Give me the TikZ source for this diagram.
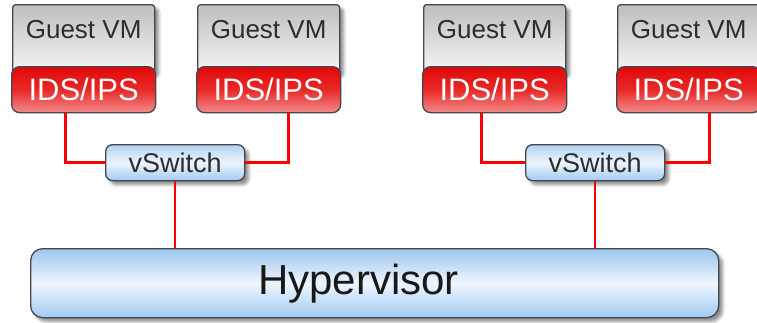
\documentclass[tikz,border=0pt]{standalone}
\usepackage{fontspec}
\setmainfont{Liberation Sans}
\usetikzlibrary{shadows.blur,calc}

\definecolor{boxedge}{RGB}{68,72,78}
\definecolor{vmtop}{RGB}{190,190,190}
\definecolor{vmbot}{RGB}{246,246,246}
\definecolor{idstop}{RGB}{226,8,8}
\definecolor{idsmid}{RGB}{232,40,40}
\definecolor{idsbot}{RGB}{244,140,140}
\definecolor{bluetop}{RGB}{158,198,238}
\definecolor{bluemid}{RGB}{238,245,253}
\definecolor{bluebot}{RGB}{160,202,244}
\definecolor{linkred}{RGB}{255,0,0}
\definecolor{darktext}{RGB}{45,45,45}

% one unit is one point; y grows upwards, so rows sit at negative y
\tikzset{
  x=1pt, y=1pt,
  softshadow/.style={blur shadow={shadow xshift=4pt, shadow yshift=-4pt,
      shadow blur steps=6, shadow blur radius=3pt, shadow opacity=45}},
  vmbox/.style={draw=boxedge, line width=1.3pt, rounded corners=3pt,
      minimum width=142pt, minimum height=68pt, inner sep=0pt,
      anchor=north west, top color=vmtop, bottom color=vmbot, softshadow},
  guesttext/.style={anchor=base, text=darktext, inner sep=0pt,
      font=\fontsize{26}{26}\selectfont},
  idsbox/.style={draw=boxedge, line width=1.3pt, rounded corners=8pt,
      minimum width=144pt, minimum height=46pt, inner sep=0pt,
      anchor=north west, top color=idstop, bottom color=idsbot,
      middle color=idsmid, text=white,
      font=\fontsize{31}{31}\selectfont},
  switchbox/.style={draw=boxedge, line width=1.3pt, rounded corners=7pt,
      minimum width=139pt, minimum height=36pt, inner sep=0pt,
      anchor=north west, top color=bluetop!80!white, bottom color=bluebot,
      middle color=bluemid, text=darktext, softshadow,
      font=\fontsize{27}{27}\selectfont},
  hypbox/.style={draw=boxedge, line width=1.3pt, rounded corners=12pt,
      minimum width=688pt, minimum height=69pt, inner sep=0pt,
      anchor=north west, top color=bluetop, bottom color=bluebot,
      middle color=bluemid, softshadow},
  hyptext/.style={text=black!90, inner sep=0pt,
      font=\fontsize{42}{42}\selectfont},
  link/.style={draw=linkred, line width=2.5pt},
}

\begin{document}
\begin{tikzpicture}
\useasboundingbox (0,0) rectangle (757,-322);

% hypervisor and virtual switches
\node[hypbox] (hyp) at (30,-248) {};
\node[hyptext] (hyplabel) at ($(hyp.center)+(-16,0)$) {Hypervisor};
\node[switchbox] (sw1) at (105,-144) {vSwitch};
\node[switchbox] (sw2) at (525,-144) {vSwitch};

% guest machines with their IDS/IPS
\foreach \i/\x in {1/12, 2/197, 3/423, 4/617} {
  \node[vmbox] (vm\i) at (\x,-4) {};
  \node[guesttext] (gt\i) at ($(vm\i.north)+(0,-34)$) {Guest VM};
  \node[idsbox] (ids\i) at (\x-1,-66) {IDS/IPS};
}

% links from the IDS/IPS to the switches, and the switches to the hypervisor
\draw[link] ($(ids1.south)+(-18,0)$) |- (sw1.west);
\draw[link] ($(ids2.south)+(20,0)$) |- (sw1.east);
\draw[link] ($(ids3.south)+(-13,0)$) |- (sw2.west);
\draw[link] ($(ids4.south)+(21,0)$) |- (sw2.east);
\draw[link] (sw1.south) -- (sw1.south |- hyp.north);
\draw[link] (sw2.south) -- (sw2.south |- hyp.north);
\end{tikzpicture}
\end{document}
